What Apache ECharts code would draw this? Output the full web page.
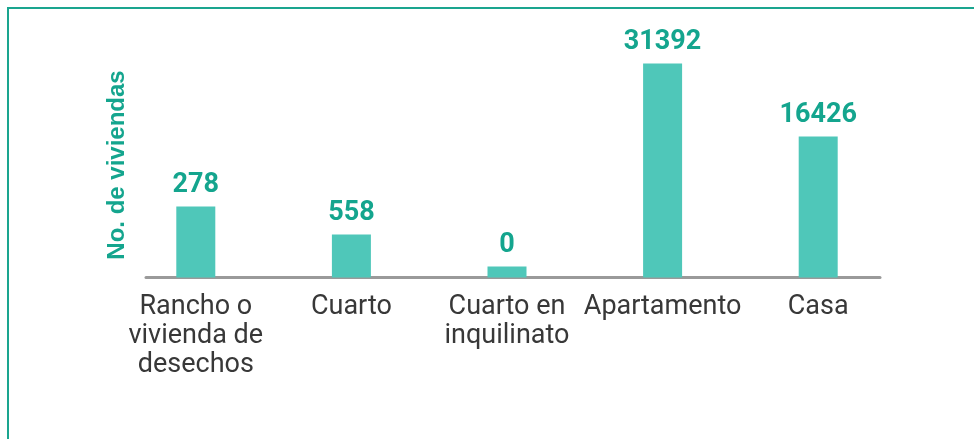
<!DOCTYPE html>
<html>
<head>
<meta charset="utf-8">
<script src="https://cdn.jsdelivr.net/npm/echarts@6/dist/echarts.min.js"></script>
<style>
  html, body { margin: 0; padding: 0; background: #fff; }
  #chart { position: absolute; left: 0; top: 0; width: 974px; height: 439px; }
  .frame {
    position: absolute; left: 7px; top: 7px; right: 0; bottom: 0;
    border-top: 2px solid #1aa58f; border-left: 2px solid #1aa58f;
    pointer-events: none;
  }
</style>
</head>
<body>
<div id="chart"></div>
<div class="frame"></div>
<script>
// tipos de vivienda
const categories = ['Rancho o\nvivienda de\ndesechos', 'Cuarto', 'Cuarto en\ninquilinato', 'Apartamento', 'Casa']
// valores que muestran las etiquetas
const counts = [278, 558, 0, 31392, 16426]
// alturas de las barras tal como se ven en la imagen (no están a escala con los valores)
const barHeights = [71, 43, 11, 214, 141]

const teal = '#14a58e'
const chart = echarts.init(document.getElementById('chart'))

chart.setOption({
  animation: false,
  grid: [
    { left: 118, right: 78, top: 27.5, bottom: 161.5 },
    { left: 146, right: 94, top: 52.5, bottom: 161.5 }
  ],
  xAxis: [
    {
      type: 'category',
      gridIndex: 0,
      data: categories,
      axisLine: { show: false },
      axisTick: { show: false },
      axisLabel: {
        color: '#383838',
        fontFamily: 'Roboto',
        fontSize: 27,
        lineHeight: 29,
        margin: 15,
        interval: 0
      }
    },
    {
      // solo la línea gris del eje
      type: 'value',
      gridIndex: 1,
      axisLine: { show: true, lineStyle: { color: '#9a9a9a', width: 3 } },
      axisTick: { show: false },
      axisLabel: { show: false },
      splitLine: { show: false }
    }
  ],
  yAxis: [
    {
      type: 'value',
      gridIndex: 0,
      min: 0,
      max: 250,
      show: false
    },
    {
      type: 'value',
      gridIndex: 1,
      name: 'No. de viviendas',
      nameLocation: 'middle',
      nameGap: 17,
      nameTextStyle: {
        color: teal,
        fontFamily: 'Liberation Sans',
        fontWeight: 'bold',
        fontSize: 24
      },
      axisLine: { show: false },
      axisTick: { show: false },
      axisLabel: { show: false },
      splitLine: { show: false }
    }
  ],
  series: [
    {
      type: 'bar',
      xAxisIndex: 0,
      yAxisIndex: 0,
      barWidth: 39,
      data: barHeights,
      itemStyle: { color: '#4fc7b9' },
      label: {
        show: true,
        position: 'top',
        distance: 8,
        color: teal,
        fontFamily: 'Roboto',
        fontWeight: 'bold',
        fontSize: 27,
        formatter: (p) => String(counts[p.dataIndex])
      }
    }
  ]
})
</script>
</body>
</html>
